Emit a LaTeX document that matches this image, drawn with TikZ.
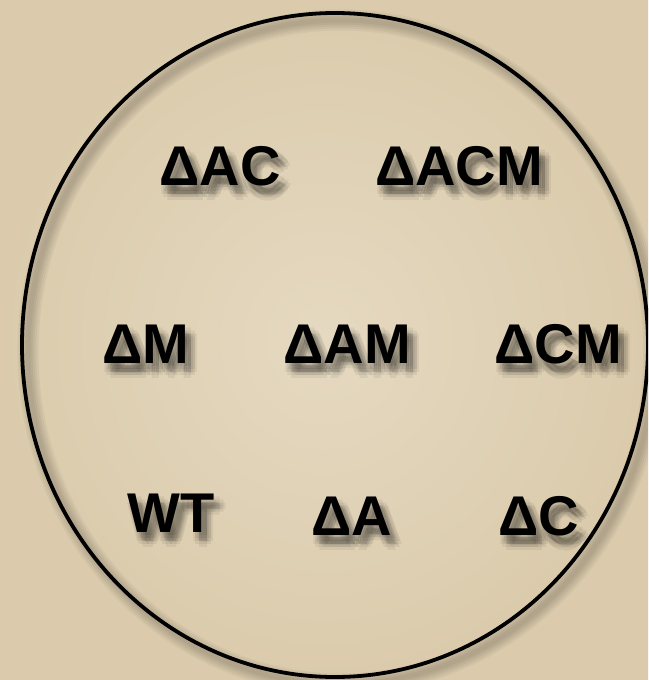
\documentclass[tikz,border=0pt]{standalone}
\usepackage{fontspec}
\setmainfont{Liberation Sans}
\definecolor{paperin}{RGB}{229,217,193}
\definecolor{paperout}{RGB}{219,203,172}
\tikzset{
  lbl/.style={inner sep=0pt, anchor=base, font=\fontsize{56}{60}\selectfont\bfseries, text=black},
  shadowlbl/.style={lbl, text opacity=0.06},
  ringline/.style={draw=black, line width=3.8pt},
}
\newcommand\shc[3]{\makebox[0pt]{\raisebox{-#2pt}{\kern#1pt#3\kern-#1pt}}}
\newcommand\shall[1]{\shc{2}{6}{#1}\shc{10}{6}{#1}\shc{2}{12}{#1}\shc{10}{12}{#1}%
  \shc{6}{9}{#1}\shc{0}{9}{#1}\shc{12}{9}{#1}\shc{6}{3}{#1}\shc{6}{15}{#1}%
  \shc{4}{8}{#1}\shc{8}{10}{#1}\shc{6}{9}{#1}}
\newcommand\mylbl[4]{%
  \node[shadowlbl] (#1s) at (#2,#3) {\shall{#4}};
  \node[lbl] (#1) at (#2,#3) {#4};}
\begin{document}
\begin{tikzpicture}[x=1pt,y=-1pt]
\useasboundingbox (0,0) rectangle (648,680);
\clip (0,0) rectangle (648,680);
\shade[inner color=paperin, outer color=paperout] (0,0) rectangle (648,680);
% ring shadow
\foreach \w in {5,9,13,17,21}{
  \draw[black, opacity=0.04, line width=\w pt] (341,352) ellipse [x radius=313, y radius=332];}
\draw[ringline] (335,345) ellipse [x radius=313, y radius=332];
% labels
\mylbl{ac}{220}{185}{ΔAC}
\mylbl{acm}{459}{185}{ΔACM}
\mylbl{m}{146}{363}{ΔM}
\mylbl{am}{347}{363}{ΔAM}
\mylbl{cm}{558}{363}{ΔCM}
\mylbl{wt}{171}{532}{WT}
\mylbl{a}{352}{535}{ΔA}
\mylbl{c}{539}{535}{ΔC}
\end{tikzpicture}
\end{document}
